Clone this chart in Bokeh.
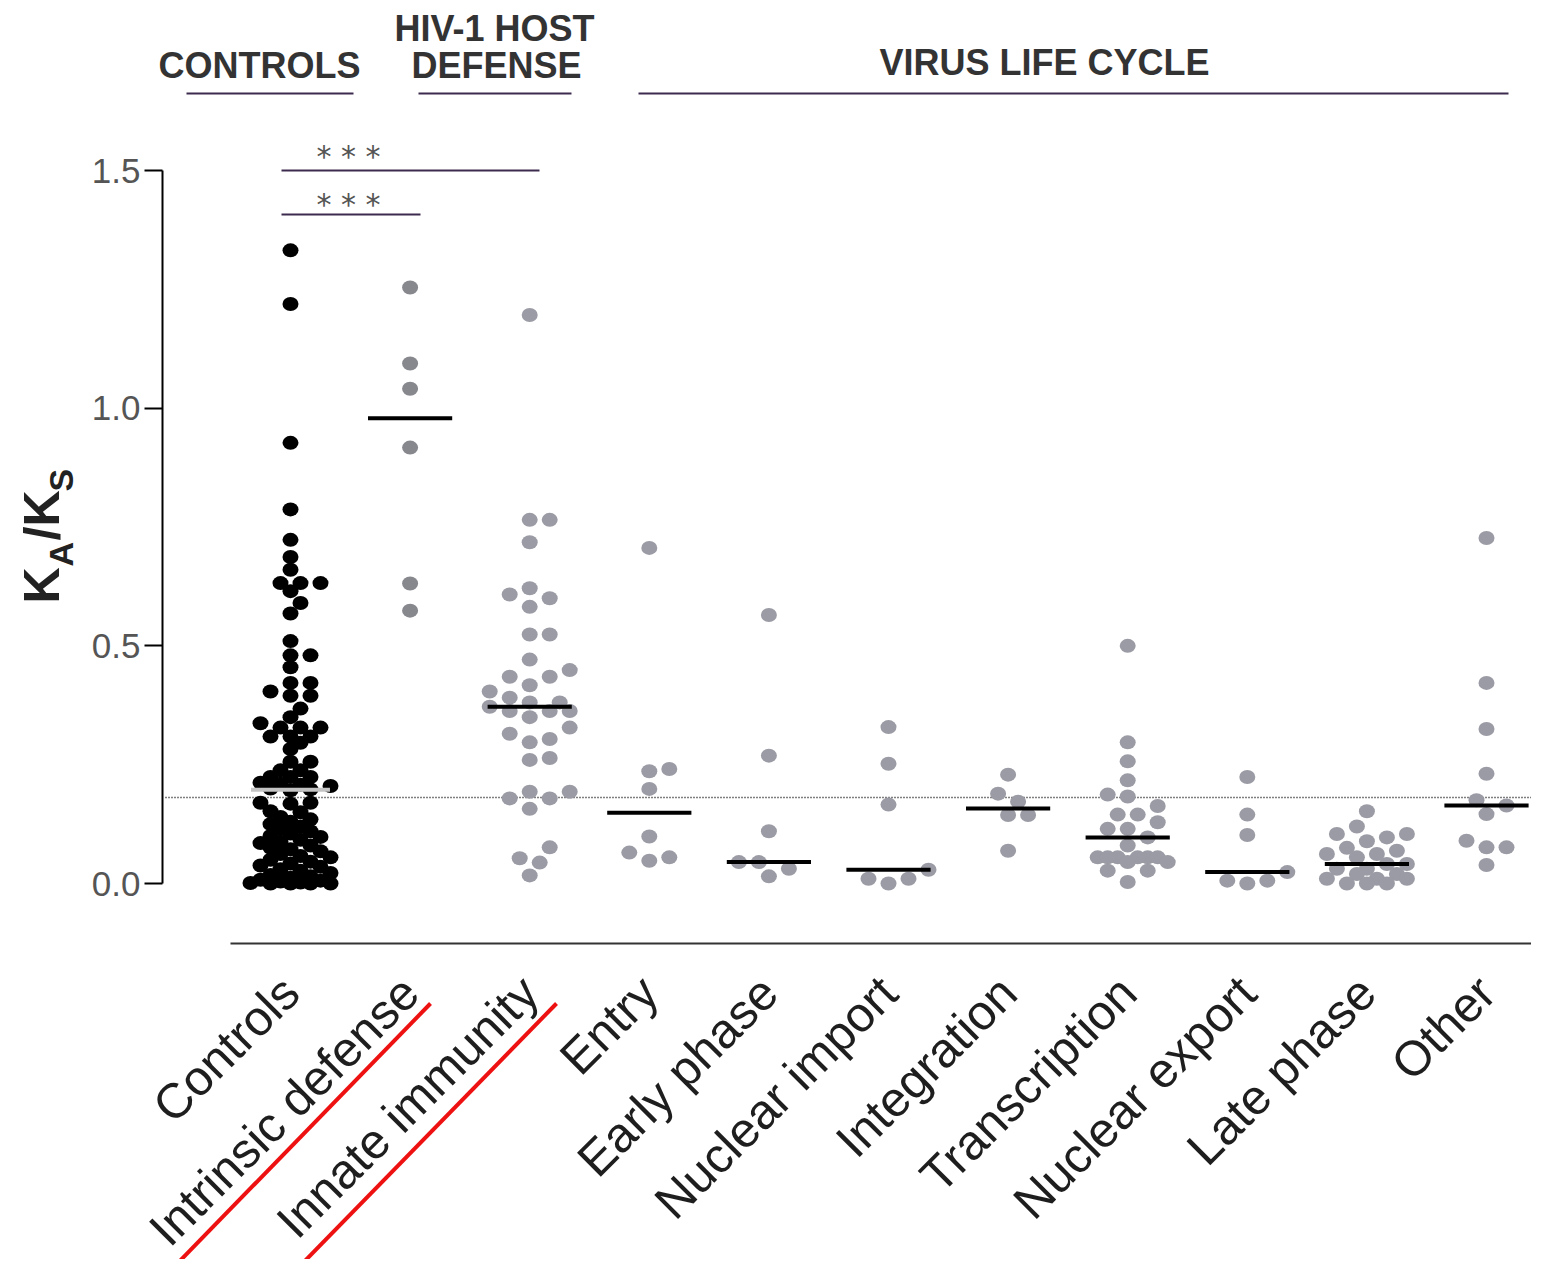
import math
import numpy as np
from bokeh.plotting import figure
from bokeh.models import Range1d, FixedTicker, NumeralTickFormatter
from bokeh.core.properties import value
from bokeh.embed import file_html
from bokeh.resources import INLINE

# ---------------- data ----------------
categories = ["Controls", "Intrinsic defense", "Innate immunity", "Entry", "Early phase",
              "Nuclear import", "Integration", "Transcription", "Nuclear export",
              "Late phase", "Other"]

controls = [1.332, 1.219, 0.927, 0.787, 0.723, 0.687, 0.660, 0.632, 0.632, 0.632,
            0.615, 0.590, 0.568, 0.510, 0.480, 0.480, 0.455, 0.422, 0.422, 0.404,
            0.395, 0.395, 0.368, 0.350, 0.337, 0.328, 0.328, 0.328, 0.309, 0.309,
            0.309, 0.296, 0.283, 0.256, 0.256, 0.238, 0.238, 0.224, 0.224, 0.224,
            0.212, 0.210, 0.208, 0.205, 0.200, 0.198, 0.196,
            0.170, 0.170, 0.168, 0.152, 0.150, 0.140, 0.135, 0.130, 0.125, 0.120,
            0.115, 0.110, 0.105, 0.100, 0.098, 0.092, 0.088, 0.085, 0.080, 0.075,
            0.072, 0.068, 0.062, 0.058, 0.055, 0.050, 0.046, 0.042, 0.038, 0.035,
            0.030, 0.027, 0.022, 0.018, 0.015, 0.012, 0.008, 0.006, 0.004, 0.002,
            0.001, 0.000, 0.000, 0.000, 0.000]
intrinsic_defense = [1.254, 1.094, 1.041, 0.917, 0.631, 0.574]
innate_immunity = [1.196, 0.765, 0.765, 0.718, 0.621, 0.608, 0.600, 0.582, 0.524, 0.524,
                   0.471, 0.449, 0.435, 0.435, 0.417, 0.404, 0.391, 0.381, 0.381, 0.372,
                   0.363, 0.363, 0.363, 0.350, 0.328, 0.315, 0.304, 0.297, 0.264, 0.260,
                   0.193, 0.193, 0.179, 0.179, 0.157, 0.076, 0.053, 0.044, 0.017]
entry = [0.706, 0.241, 0.236, 0.199, 0.099, 0.065, 0.055, 0.048]
early_phase = [0.565, 0.269, 0.110, 0.045, 0.045, 0.031, 0.015]
nuclear_import = [0.329, 0.252, 0.166, 0.029, 0.010, 0.010, 0.000]
integration = [0.229, 0.189, 0.172, 0.144, 0.144, 0.069]
transcription = [0.500, 0.297, 0.257, 0.217, 0.187, 0.183, 0.163, 0.145, 0.145, 0.129,
                 0.115, 0.115, 0.097, 0.080, 0.055, 0.055, 0.055, 0.055, 0.055, 0.055,
                 0.045, 0.045, 0.027, 0.027, 0.003]
nuclear_export = [0.224, 0.145, 0.102, 0.024, 0.006, 0.006, 0.000]
late_phase = [0.152, 0.120, 0.104, 0.104, 0.097, 0.089, 0.075, 0.069, 0.062, 0.062,
              0.055, 0.041, 0.041, 0.031, 0.031, 0.020, 0.020, 0.010, 0.010, 0.010,
              0.000, 0.000, 0.000]
other = [0.727, 0.422, 0.325, 0.231, 0.175, 0.164, 0.146, 0.090, 0.076, 0.076, 0.039]

series = [controls, intrinsic_defense, innate_immunity, entry, early_phase, nuclear_import,
          integration, transcription, nuclear_export, late_phase, other]

reference_line = 0.181
y_ticks = [0.0, 0.5, 1.0, 1.5]
group_headers = ["CONTROLS", "HIV-1 HOST", "DEFENSE", "VIRUS LIFE CYCLE"]
significance = ["* * *", "* * *"]
y_label_main = ["K", "/K"]
y_label_subs = ["A", "S"]

# ---------------- layout helpers (pixel -> data) ----------------
PX_X = 119.6    # px per category
PX_Y = 475.33   # px per unit of KA/KS
X0, Y0 = 290.0, 883.0
W, H = 1531, 1259


def xd(px):
    return (px - X0) / PX_X


def yd(py):
    return (Y0 - py) / PX_Y


def swarm(vals, step=10.0, min_d=15.0, max_steps=4, aspect=1.0):
    order = sorted(range(len(vals)), key=lambda k: vals[k])
    placed = []
    offs = [0.0] * len(vals)
    cands = [0.0]
    for s in range(1, max_steps + 1):
        cands += [s * step, -s * step]
    for k in order:
        y = vals[k] * PX_Y
        chosen, best_c, best_d = None, 0.0, -1.0
        for c in cands:
            d = min((math.hypot((c - px) / aspect, y - py) for px, py in placed), default=1e9)
            if d >= min_d:
                chosen = c
                break
            if d > best_d:
                best_d, best_c = d, c
        if chosen is None:
            chosen = best_c
        placed.append((chosen, y))
        offs[k] = chosen / PX_X
    return offs


p = figure(width=W, height=H, output_backend="svg", toolbar_location=None,
           x_range=Range1d(xd(0), xd(W)), y_range=Range1d(yd(H), yd(0)),
           min_border_left=0, min_border_right=0, min_border_top=0, min_border_bottom=0)
p.outline_line_color = None
p.xgrid.visible = False
p.ygrid.visible = False
p.background_fill_color = "white"
p.border_fill_color = "white"

# y axis (fixed inside the frame)
yax = p.yaxis[0]
yax.fixed_location = xd(162)
yax.ticker = FixedTicker(ticks=y_ticks, minor_ticks=[])
yax.bounds = (0, 1.5)
yax.formatter = NumeralTickFormatter(format="0.0")
yax.axis_line_width = 2
yax.axis_line_color = "black"
yax.major_tick_line_width = 2
yax.major_tick_line_color = "black"
yax.major_tick_out = 18
yax.major_tick_in = 0
yax.minor_tick_line_color = None
yax.major_label_text_font = "Liberation Sans"
yax.major_label_text_font_size = "35px"
yax.major_label_text_color = "#555555"
yax.major_label_standoff = 4

# x axis (fixed inside the frame)
xax = p.xaxis[0]
xax.fixed_location = yd(943)
xax.ticker = FixedTicker(ticks=list(range(len(categories))), minor_ticks=[])
xax.major_label_overrides = {i: c for i, c in enumerate(categories)}
xax.bounds = (xd(230), xd(1560))
xax.axis_line_width = 2
xax.axis_line_color = "#333333"
xax.major_tick_line_color = None
xax.major_tick_out = 0
xax.major_tick_in = 0
xax.minor_tick_line_color = None
xax.major_label_orientation = math.pi / 4
xax.major_label_text_font = "Liberation Sans"
xax.major_label_text_font_size = "49px"
xax.major_label_text_color = "#1e1e1e"
xax.major_label_standoff = 41

# dotted reference line
p.segment(x0=[xd(165)], x1=[xd(1543)], y0=[reference_line], y1=[reference_line],
          line_color="black", line_width=1.5, line_dash="1 2")

# points
for i, vals in enumerate(series):
    if i == 0:
        offs = swarm(vals, step=10.0, min_d=11.0, max_steps=4)
        color = "black"
    else:
        offs = swarm(vals, step=10.0, min_d=15.5, max_steps=4, aspect=16 / 14)
        color = "#87888e" if i == 1 else "#9a9ba4"
    xs = [i + o for o in offs]
    p.ellipse(xs, vals, width=16, height=14, width_units="screen", height_units="screen",
              fill_color=color, line_color=None)

# medians
meds = [float(np.median(v)) for v in series]
hw = 0.352
p.segment(x0=[i - hw for i in range(1, len(series))], x1=[i + hw for i in range(1, len(series))],
          y0=meds[1:], y1=meds[1:], line_color="black", line_width=4)
p.segment(x0=[-0.33], x1=[0.33], y0=[meds[0]], y1=[meds[0]], line_color="#c4c4c4", line_width=4)

# group headers
p.text(x=[xd(259), xd(494), xd(496), xd(1044)], y=[yd(65), yd(28), yd(65), yd(62)],
       text=group_headers, text_font=value("Liberation Sans"), text_font_size="36px",
       text_font_style="bold", text_align="center", text_baseline="middle",
       text_color="#333333")
p.segment(x0=[xd(186), xd(418), xd(638)], x1=[xd(353), xd(571), xd(1508)],
          y0=[yd(93)] * 3, y1=[yd(93)] * 3, line_color="#3d2b4f", line_width=2)

# significance bars
p.segment(x0=[xd(281), xd(281)], x1=[xd(539), xd(420)], y0=[yd(170), yd(214)],
          y1=[yd(170), yd(214)], line_color="#3d2b4f", line_width=2)
p.text(x=[xd(348), xd(348)], y=[yd(156), yd(204)], text=significance,
       text_font=value("DejaVu Sans"), text_font_size="30px", text_align="center",
       text_baseline="middle", text_color="#555555")

# y axis label  K_A / K_S
p.text(x=[xd(41), xd(41)], y=[yd(603), yd(540)], text=y_label_main,
       angle=math.pi / 2, text_font=value("Liberation Sans"), text_font_size="50px",
       text_font_style="bold", text_color="#222222", text_align="left",
       text_baseline="middle")
p.text(x=[xd(60), xd(60)], y=[yd(566), yd(491)], text=y_label_subs,
       angle=math.pi / 2, text_font=value("Liberation Sans"), text_font_size="34px",
       text_font_style="bold", text_color="#222222", text_align="left",
       text_baseline="middle")

# red underlines
p.segment(x0=[xd(172), xd(297)], y0=[yd(1268), yd(1268)], x1=[xd(430), xd(556)],
          y1=[yd(1003), yd(1003)], line_color="#ee1111", line_width=4)

open("out.html", "w").write(file_html(p, INLINE))
